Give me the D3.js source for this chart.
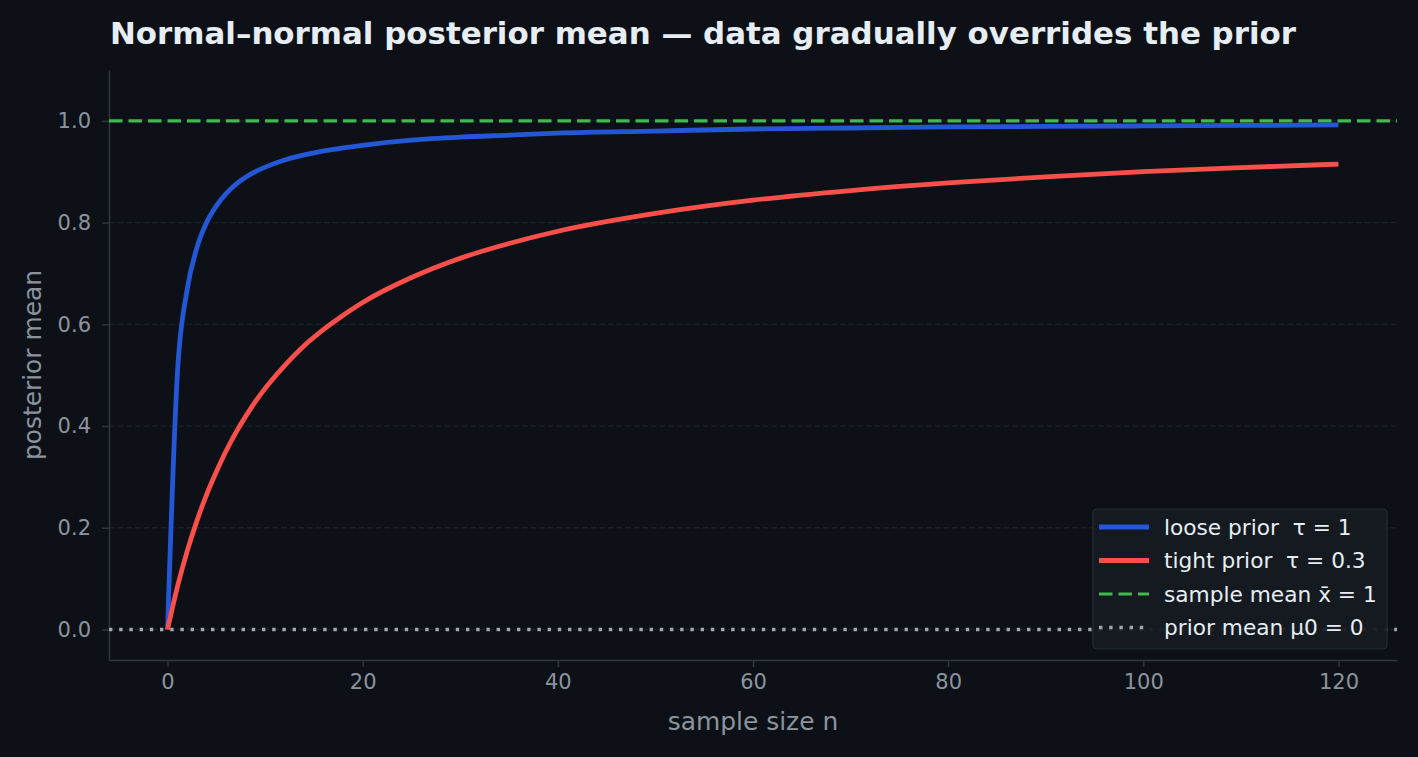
<!DOCTYPE html>
<html>
<head>
<meta charset="utf-8">
<script src="https://cdn.jsdelivr.net/npm/d3@7"></script>
<style>
  html, body { margin: 0; padding: 0; background: #0d1117; }
  svg { display: block; font-family: "DejaVu Sans", sans-serif; }
</style>
</head>
<body>
<svg id="chart"></svg>
<script>
const width = 1418;
const height = 757;

// sample sizes
const sampleSizes = [0, 1, 2, 3, 4, 5, 6, 7, 8, 9, 10, 12, 14, 16, 18, 20, 25, 30, 35, 40, 50, 60, 70, 80, 90, 100, 110, 120];

// posterior mean, loose prior (tau = 1)
const loosePrior = [0, 0.500, 0.667, 0.750, 0.800, 0.833, 0.857, 0.875, 0.889, 0.900, 0.909, 0.923, 0.933, 0.941, 0.947, 0.952,
  0.962, 0.968, 0.972, 0.976, 0.980, 0.984, 0.986, 0.988, 0.989, 0.990, 0.991, 0.992];

// posterior mean, tight prior (tau = 0.3)
const tightPrior = [0, 0.083, 0.153, 0.213, 0.265, 0.310, 0.351, 0.387, 0.419, 0.448, 0.474, 0.519, 0.558, 0.590, 0.618, 0.643,
  0.692, 0.730, 0.759, 0.783, 0.818, 0.844, 0.863, 0.878, 0.890, 0.900, 0.908, 0.915];

const sampleMean = 1;
const priorMean = 0;

const xTicks = [0, 20, 40, 60, 80, 100, 120];
const yTicks = [0.0, 0.2, 0.4, 0.6, 0.8, 1.0];

const legendLabels = ["loose prior  \u03c4 = 1", "tight prior  \u03c4 = 0.3", "sample mean x\u0304 = 1", "prior mean \u03bc0 = 0"];

const colors = { loose: "#2457d6", tight: "#fa4f4a", sample: "#3fb950", prior: "#a0a7b0" };

const margin = { top: 70, right: 21, bottom: 97, left: 109 };

const svg = d3.select("#chart").attr("width", width).attr("height", height);

svg.append("rect").attr("width", width).attr("height", height).attr("fill", "#0d1117");

const x = d3.scaleLinear().domain([-6, 126]).range([margin.left, width - margin.right]);
const y = d3.scaleLinear().domain([-0.06, 1.1]).range([height - margin.bottom, margin.top]);

// grid
svg.append("g")
  .selectAll("line")
  .data(yTicks)
  .join("line")
  .attr("x1", margin.left).attr("x2", width - margin.right)
  .attr("y1", d => y(d)).attr("y2", d => y(d))
  .attr("stroke", "#1c2129")
  .attr("stroke-width", 1.3)
  .attr("stroke-dasharray", "6 2.6");

// axes
const xAxis = svg.append("g")
  .attr("transform", `translate(0,${height - margin.bottom})`)
  .call(d3.axisBottom(x).tickValues(xTicks).tickFormat(d3.format("d")).tickSize(7).tickSizeOuter(0).tickPadding(7));

const yAxis = svg.append("g")
  .attr("transform", `translate(${margin.left},0)`)
  .call(d3.axisLeft(y).tickValues(yTicks).tickFormat(d3.format(".1f")).tickSize(7).tickSizeOuter(0).tickPadding(11));

[xAxis, yAxis].forEach(a => {
  a.select(".domain").attr("stroke", "#30363d").attr("stroke-width", 1.5);
  a.selectAll(".tick line").attr("stroke", "#30363d").attr("stroke-width", 1.5);
  a.selectAll(".tick text")
    .attr("fill", "#8b949e")
    .attr("font-size", "21px")
    .attr("font-family", "DejaVu Sans, sans-serif");
});
xAxis.selectAll(".tick text").attr("dy", "0.72em");

// reference lines
svg.append("line")
  .attr("x1", margin.left).attr("x2", width - margin.right)
  .attr("y1", y(sampleMean)).attr("y2", y(sampleMean))
  .attr("stroke", colors.sample)
  .attr("stroke-width", 3.2)
  .attr("stroke-dasharray", "13.5 6");

svg.append("line")
  .attr("x1", margin.left).attr("x2", width - margin.right)
  .attr("y1", y(priorMean)).attr("y2", y(priorMean))
  .attr("stroke", colors.prior)
  .attr("stroke-width", 3.4)
  .attr("stroke-dasharray", "3.4 6.8");

// curves
const line = d3.line()
  .x((d, i) => x(sampleSizes[i]))
  .y(d => y(d))
  .curve(d3.curveMonotoneX);

svg.append("path")
  .datum(loosePrior)
  .attr("d", line)
  .attr("fill", "none")
  .attr("stroke", colors.loose)
  .attr("stroke-width", 4.8);

svg.append("path")
  .datum(tightPrior)
  .attr("d", line)
  .attr("fill", "none")
  .attr("stroke", colors.tight)
  .attr("stroke-width", 4.8);

// labels
svg.append("text")
  .attr("x", 110)
  .attr("y", 44)
  .attr("fill", "#e6edf3")
  .attr("font-size", "30.9px")
  .attr("font-weight", "bold")
  .text("Normal\u2013normal posterior mean \u2014 data gradually overrides the prior");

svg.append("text")
  .attr("x", (margin.left + width - margin.right) / 2)
  .attr("y", 730)
  .attr("text-anchor", "middle")
  .attr("fill", "#8b949e")
  .attr("font-size", "24.9px")
  .text("sample size n");

svg.append("text")
  .attr("transform", `translate(41,${(margin.top + height - margin.bottom) / 2}) rotate(-90)`)
  .attr("text-anchor", "middle")
  .attr("fill", "#8b949e")
  .attr("font-size", "24.9px")
  .text("posterior mean");

// legend
const legend = svg.append("g").attr("transform", "translate(1093,509)");

legend.append("rect")
  .attr("width", 294)
  .attr("height", 140)
  .attr("rx", 4)
  .attr("fill", "#161b22")
  .attr("fill-opacity", 0.95)
  .attr("stroke", "#262c34")
  .attr("stroke-width", 1.2);

const legendStyles = [
  { color: colors.loose, width: 4.8, dash: null },
  { color: colors.tight, width: 4.8, dash: null },
  { color: colors.sample, width: 3.2, dash: "13.5 6" },
  { color: colors.prior, width: 3.4, dash: "3.4 6.8" }
];

const items = legend.selectAll("g.item")
  .data(legendLabels)
  .join("g")
  .attr("class", "item")
  .attr("transform", (d, i) => `translate(0,${18 + i * 33.5})`);

items.append("line")
  .attr("x1", 6).attr("x2", 56)
  .attr("stroke", (d, i) => legendStyles[i].color)
  .attr("stroke-width", (d, i) => legendStyles[i].width)
  .attr("stroke-dasharray", (d, i) => legendStyles[i].dash);

items.append("text")
  .attr("x", 71)
  .attr("dy", "0.35em")
  .attr("fill", "#e6edf3")
  .attr("font-size", "21.7px")
  .style("white-space", "pre")
  .text(d => d);
</script>
</body>
</html>
